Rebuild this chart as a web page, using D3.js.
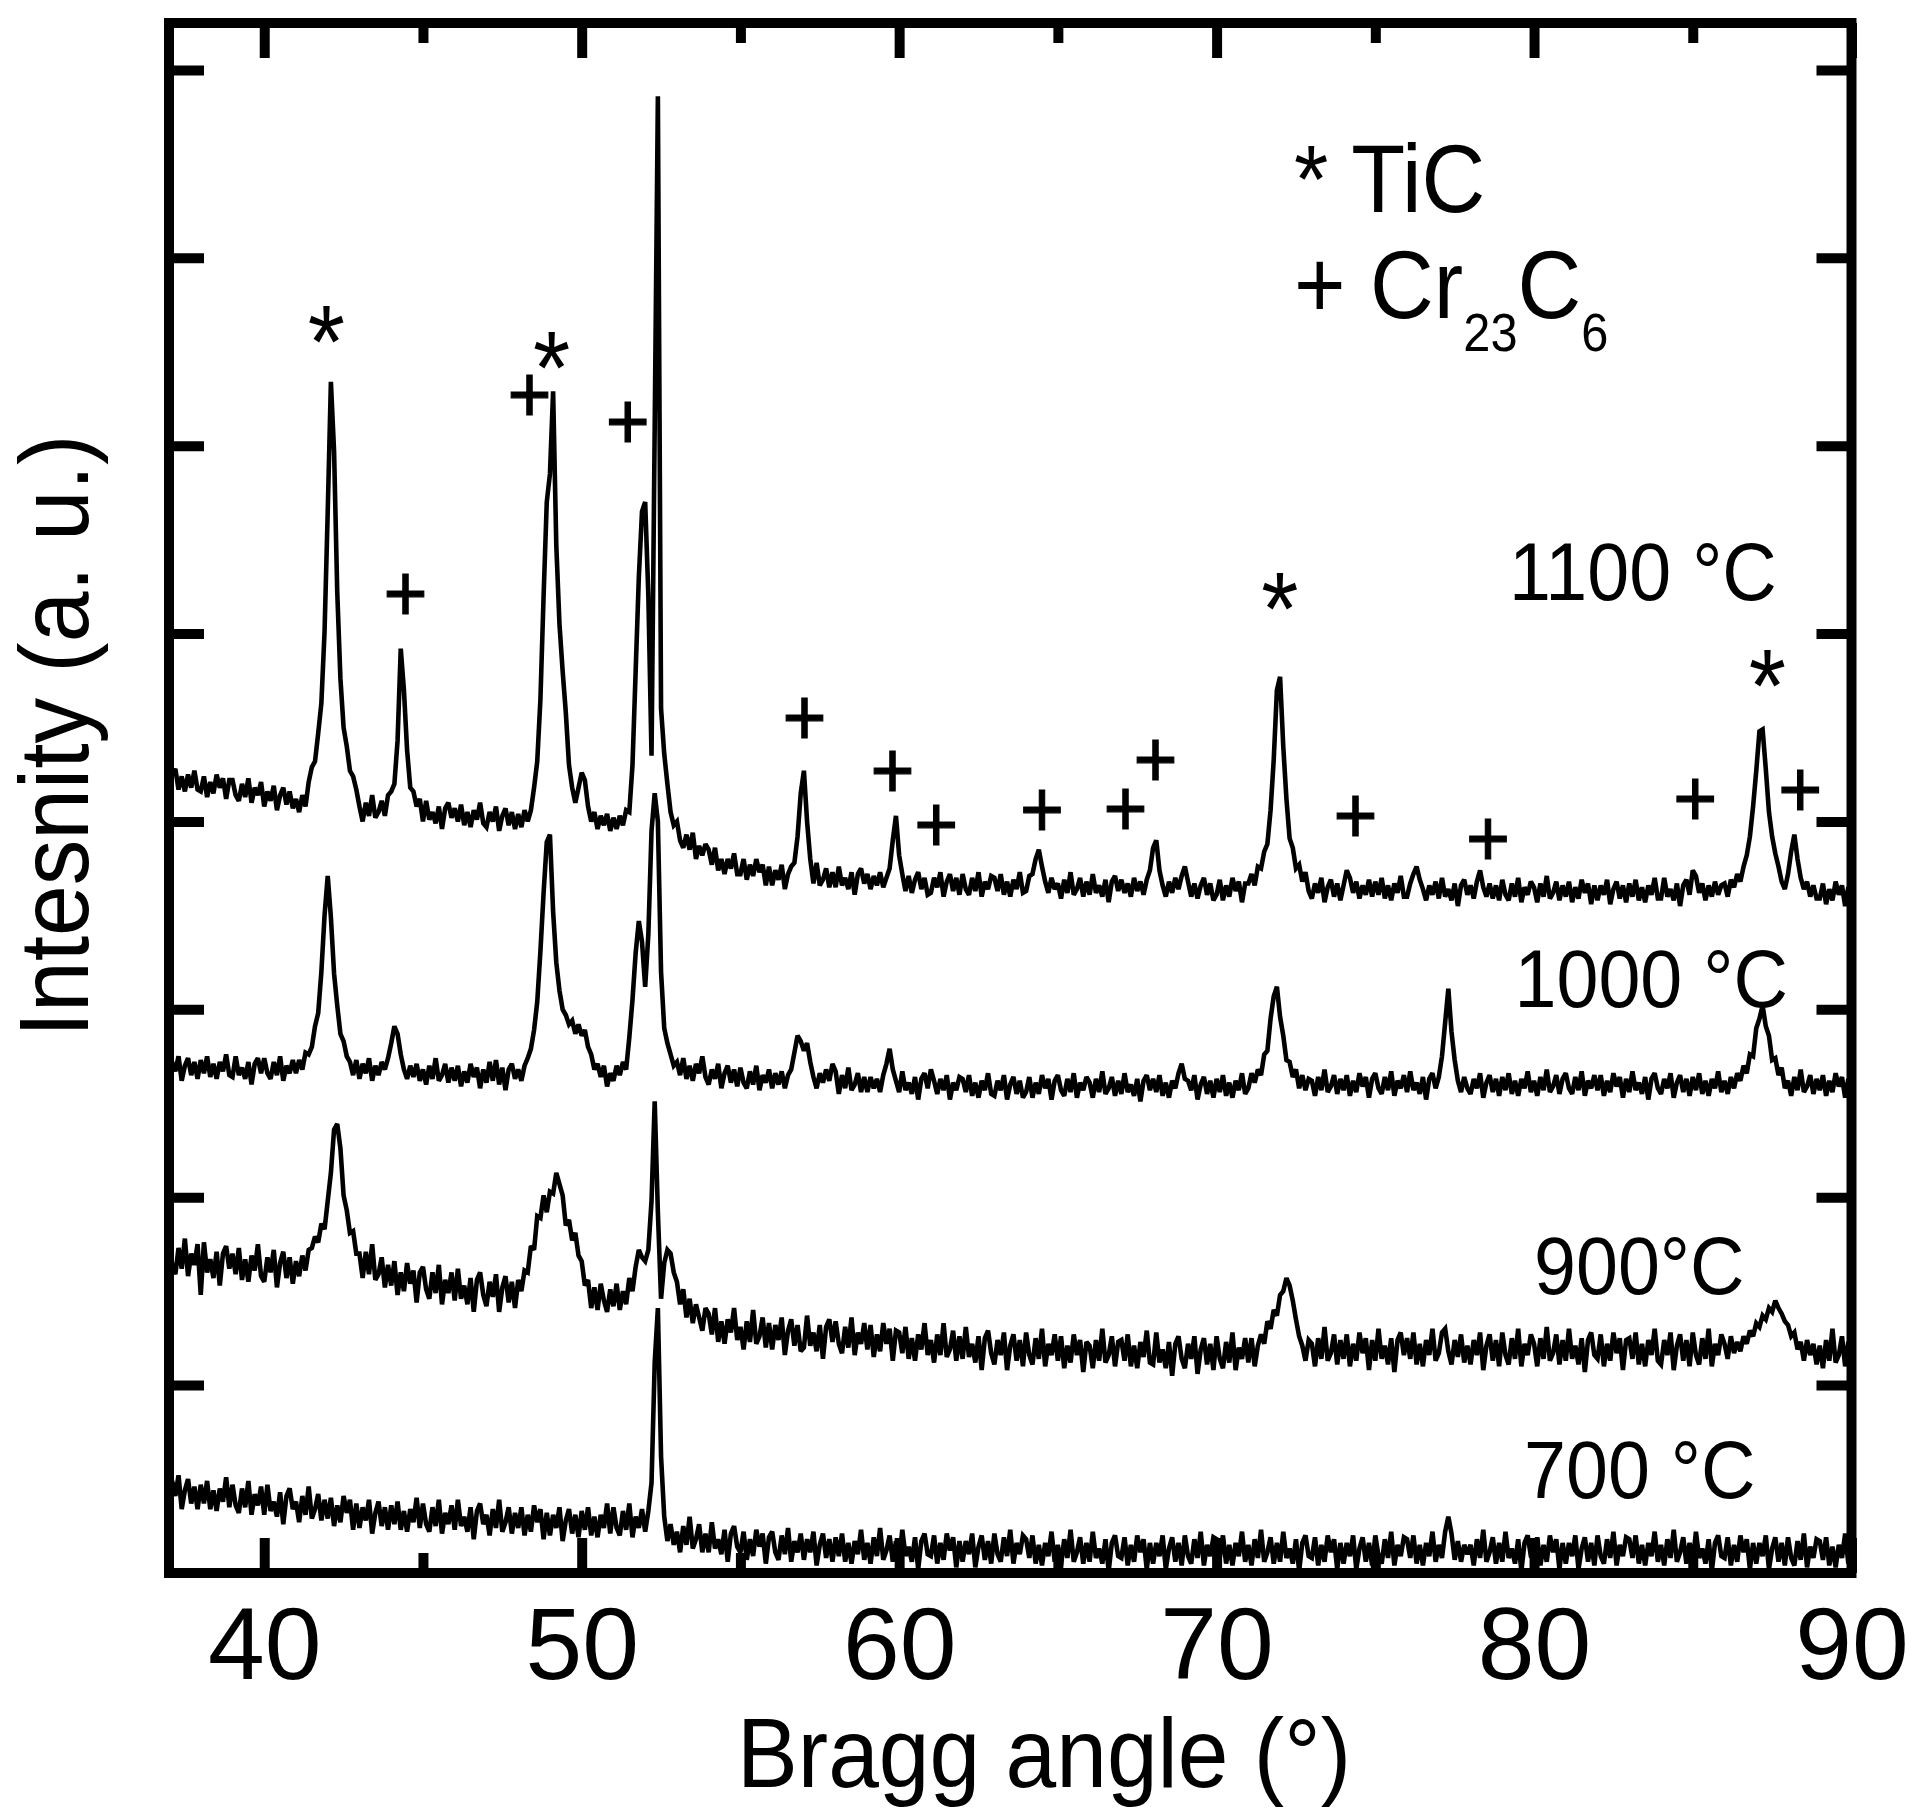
<!DOCTYPE html>
<html><head><meta charset="utf-8">
<script src="https://cdn.jsdelivr.net/npm/d3@7"></script>
<style>
body{margin:0;background:#fff}
text{font-family:"Liberation Sans",Arial,Helvetica,sans-serif;fill:#000}
</style>
</head><body>
<svg id="chart" width="1914" height="1817"></svg>
<script>
// ---- data ----
const angleStart = 37, angleStep = 0.1;   // Bragg angle sampling (degrees)
const xTicks = [40, 50, 60, 70, 80, 90];
const xMinorTicks = [45, 55, 65, 75, 85];
const yTicks = [100, 200, 300, 400, 500, 600, 700, 800];

const s1100 = [
440,425,428,417,424,416,425,418,427,417,
416,424,413,421,415,425,418,423,412,422,
422,414,411,420,413,423,410,418,414,421,
408,416,411,419,406,414,418,409,416,407,
412,405,414,408,421,429,432,447,463,501,
565,634,597,522,476,450,440,427,424,417,
408,400,410,403,414,402,405,411,403,414,
416,420,443,492,470,438,418,416,408,412,
400,411,401,405,399,408,396,407,410,402,
407,400,409,398,405,397,406,401,410,399,
397,405,400,408,395,403,407,398,405,396,
404,397,406,400,406,418,432,465,520,570,
585,629,547,505,480,458,430,418,410,418,
426,422,408,400,405,396,403,398,404,395,
402,396,403,398,406,405,430,480,530,565,
570,520,435,610,786,460,436,420,405,398,
400,390,386,393,385,394,380,387,382,388,
385,377,386,374,380,372,380,375,383,372,
372,380,369,377,371,380,373,377,366,376,
366,374,369,377,364,372,376,378,392,415,
427,400,380,367,378,366,369,375,365,373,
365,376,366,370,364,373,361,372,375,367,
372,364,371,366,373,365,370,375,390,403,
382,372,363,371,362,369,373,364,370,361,
362,370,365,373,360,368,372,363,370,361,
372,364,361,370,363,373,360,368,364,371,
370,363,372,361,368,360,369,364,373,362,
363,371,372,380,385,376,368,362,370,364,
367,359,369,362,373,361,364,370,360,368,
361,372,362,366,360,369,357,368,371,363,
369,362,367,360,370,363,368,361,369,374,
386,390,374,366,360,368,362,370,364,371,
376,368,360,367,359,366,370,361,367,358,
361,369,358,366,360,370,363,368,357,367,
367,372,366,376,375,384,388,406,433,470,
477,440,412,391,386,375,377,368,373,363,
359,367,362,370,357,365,369,360,367,358,
366,374,370,362,368,359,366,361,369,360,
368,361,370,359,366,358,367,362,371,360,
360,367,372,376,369,364,358,366,361,368,
359,370,360,364,358,367,355,366,369,361,
366,359,368,374,365,360,367,359,366,358,
369,361,358,367,360,370,357,365,361,368,
365,357,367,360,371,359,362,368,358,366,
360,368,357,365,359,369,362,367,356,366,
358,366,361,369,356,364,368,359,366,357,
367,360,369,358,365,357,366,361,370,359,
359,370,360,364,358,367,355,366,369,361,
374,371,362,367,358,366,360,368,361,366,
367,360,369,365,372,368,376,382,392,408,
427,448,449,428,405,392,383,376,368,364,
372,384,393,380,370,364,368,360,366,359,
359,367,356,364,358,368,361,366,355,365,
362];

const s1000 = [
264,272,267,275,262,270,274,265,272,263,
273,266,275,264,271,263,272,267,276,265,
264,275,265,269,263,272,260,271,274,266,
274,266,263,272,265,275,262,270,266,273,
266,273,268,277,276,280,291,298,320,350,
371,349,319,302,287,283,275,272,265,273,
263,271,266,274,262,270,265,272,268,274,
282,291,287,276,268,263,270,264,271,262,
268,260,270,263,274,262,265,271,261,269,
262,270,259,267,261,271,264,269,258,268,
261,272,262,273,260,269,257,268,271,263,
268,262,270,274,279,289,304,331,362,389,
393,352,325,310,300,297,292,294,287,292,
286,289,280,276,268,271,264,270,259,266,
262,270,265,272,268,285,305,330,347,336,
312,340,395,415,400,320,290,282,276,270,
272,265,274,263,270,262,271,266,275,264,
260,268,263,271,258,266,270,261,268,259,
269,261,258,267,260,270,257,265,261,268,
258,266,260,267,258,265,268,277,286,283,
278,282,272,264,258,266,261,268,262,271,
267,255,265,258,269,257,260,266,256,264,
256,264,258,263,256,265,271,279,268,262,
256,267,257,261,255,264,252,263,266,258,
268,262,255,263,257,265,252,261,257,264,
263,256,265,254,261,253,262,257,266,255,
254,262,257,265,252,260,264,255,262,253,
256,264,253,261,255,265,258,263,252,262,
265,257,254,263,256,266,253,261,257,264,
261,253,263,256,267,255,258,264,254,262,
255,266,256,260,254,263,251,262,265,257,
263,256,265,254,261,253,262,258,266,271,
263,262,257,265,252,260,264,255,262,253,
263,256,265,254,261,253,262,257,266,255,
258,266,261,268,265,276,278,295,307,312,
296,286,273,272,264,268,258,265,257,263,
262,254,264,257,268,256,259,265,255,263,
257,265,254,262,256,266,259,264,253,263,
266,258,255,264,257,267,254,262,258,265,
256,267,257,261,255,264,252,263,266,258,
264,275,293,311,288,273,262,256,264,258,
255,263,258,266,253,261,265,256,263,254,
264,257,266,255,262,254,263,258,267,256,
262,254,264,257,268,256,259,265,255,263,
266,258,255,264,257,267,254,262,258,265,
257,265,254,262,256,266,259,264,253,263,
256,267,257,261,255,264,252,263,266,258,
255,263,258,266,253,261,265,256,263,254,
264,257,266,255,262,254,263,258,267,256,
262,255,264,258,266,262,270,266,276,275,
290,295,302,291,286,273,274,265,269,258,
262,254,264,257,268,256,259,265,255,263,
257,265,254,262,256,266,259,264,253,263,
259];

const s900 = [
176,164,159,173,162,178,158,170,164,175,
148,176,160,167,157,171,153,170,174,162,
170,159,173,156,167,155,169,161,175,158,
155,168,160,172,152,165,171,157,168,154,
166,158,169,161,172,173,179,176,186,183,
198,213,236,239,226,201,193,181,182,170,
170,157,171,159,175,156,159,168,152,164,
153,166,148,160,150,165,154,161,144,160,
163,151,146,160,149,164,143,156,149,160,
145,162,146,153,143,157,139,156,160,148,
142,155,147,159,139,152,158,144,155,141,
156,150,161,160,174,172,190,189,201,192,
203,202,213,207,201,185,188,177,181,169,
166,153,156,141,152,140,154,145,139,151,
142,154,140,150,143,157,150,163,172,168,
166,172,198,251,192,146,165,172,170,160,
155,143,151,136,146,133,143,136,129,141,
138,127,141,123,134,122,135,128,141,124,
131,119,134,123,140,122,126,136,120,133,
119,132,124,136,116,129,135,121,132,118,
120,137,121,128,118,132,114,131,135,123,
134,122,117,131,120,136,116,128,122,133,
119,132,115,127,118,133,122,130,113,129,
128,117,131,114,125,113,127,119,133,116,
124,112,127,116,133,115,119,129,113,126,
114,131,115,122,112,126,108,125,129,117,
111,124,116,128,108,121,127,113,124,110,
128,116,111,125,114,130,110,122,116,127,
113,126,109,121,112,127,116,124,107,123,
121,109,124,113,130,112,116,126,110,123,
124,113,127,110,121,109,123,115,129,112,
111,128,112,119,109,123,105,122,126,114,
109,122,114,126,106,119,125,111,122,108,
126,114,109,123,112,128,108,120,114,125,
112,125,110,121,127,122,134,130,140,137,
148,150,157,153,145,135,126,121,113,124,
122,110,125,114,131,113,117,127,111,124,
114,127,110,122,113,128,117,125,108,124,
113,130,114,121,111,125,107,124,128,116,
125,114,128,111,122,110,124,116,130,113,
117,128,130,118,111,124,115,127,112,121,
111,124,116,128,108,121,127,113,124,110,
128,116,111,125,114,130,110,122,116,127,
122,110,125,114,131,113,117,127,111,124,
113,130,114,121,111,125,107,124,128,116,
114,127,110,122,113,128,117,125,108,124,
125,114,128,111,122,110,124,116,130,113,
111,124,116,128,108,121,127,113,124,110,
128,116,111,125,114,130,110,122,116,127,
122,114,126,117,123,118,126,122,129,126,
133,131,137,135,141,139,145,141,138,134,
132,126,128,119,123,113,124,116,122,111,
121,109,124,113,130,112,116,126,110,123,
117];

const s700 = [
38,49,41,52,34,44,50,37,46,34,
47,37,49,34,44,33,45,38,51,35,
47,36,32,45,35,49,31,42,36,46,
31,47,33,38,30,43,26,41,45,34,
38,27,41,31,46,29,34,42,28,39,
29,40,25,36,27,41,32,39,23,37,
24,35,28,39,21,32,38,25,35,23,
36,26,38,23,33,22,34,27,40,24,
37,26,22,35,25,39,21,32,26,36,
23,39,25,30,22,35,18,33,37,26,
31,20,34,24,39,22,27,35,21,32,
24,35,20,31,22,36,27,34,18,32,
20,31,24,35,17,28,34,21,31,19,
33,23,35,20,30,19,31,24,37,21,
35,24,20,33,23,37,19,30,24,34,
22,33,48,112,141,62,30,17,26,15,
22,11,25,15,30,13,18,26,11,21,
11,27,13,18,10,23,6,21,25,14,
11,22,7,18,9,23,14,21,5,19,
22,11,7,20,10,24,6,17,11,21,
7,18,11,22,4,15,21,8,18,6,
19,9,21,6,16,5,17,10,23,7,
16,5,19,9,24,7,12,20,6,17,
7,23,9,14,6,19,2,17,21,10,
9,20,5,16,7,21,12,19,3,17,
6,17,10,21,3,14,20,7,17,5,
21,10,6,19,9,23,5,16,10,20,
18,8,20,5,15,4,16,9,22,6,
15,4,18,8,23,6,11,19,5,16,
6,22,8,13,5,18,1,16,20,9,
8,19,4,15,6,20,11,18,2,16,
5,16,9,20,2,13,19,6,16,4,
20,9,5,18,8,22,4,15,9,19,
18,8,20,5,15,4,16,9,22,6,
15,4,18,8,23,6,11,19,5,16,
6,22,8,13,5,18,1,16,20,9,
8,19,4,15,6,20,11,18,2,16,
5,16,9,20,2,13,19,6,16,4,
20,9,5,18,8,22,4,15,9,19,
18,8,20,5,15,4,16,9,22,6,
15,8,22,30,21,7,17,6,15,10,
15,4,18,8,23,6,11,19,5,16,
6,22,8,13,5,18,1,16,20,9,
8,19,4,15,6,20,11,18,2,16,
5,16,9,20,2,13,19,6,16,4,
20,9,5,18,8,22,4,15,9,19,
18,8,20,5,15,4,16,9,22,6,
15,4,18,8,23,6,11,19,5,16,
6,22,8,13,5,18,1,16,20,9,
8,19,4,15,6,20,11,18,2,16,
5,16,9,20,2,13,19,6,16,4,
19,8,4,17,7,21,3,14,8,18,
17,7,19,4,14,3,15,8,21,5,
11];

const seriesNames = ["1100 °C", "1000 °C", "900°C", "700 °C"];

// phase markers on peaks: angle, level, symbol
const markerAngles  = [41.96, 44.45, 48.36, 49.05, 51.45, 57.02, 59.79, 61.17, 64.50, 67.13, 68.08, 71.99, 74.38, 78.55, 85.08, 87.35, 88.39];
const markerLevels  = [668, 522, 628, 654, 614, 456, 428, 399, 407, 408, 434, 526, 404, 392, 413, 485, 418];
const markerSymbols = ["*","+","+","*","+","+","+","+","+","+","+","*","+","+","+","*","+"];

// ---- drawing ----
const svg = d3.select("#chart");
const L = 169, R = 1851.5, T = 23, B = 1573;
const x = d3.scaleLinear().domain([37, 90]).range([L, R]);
const y = d3.scaleLinear().domain([0, 825]).range([B, T]);

const line = d3.line()
  .x((d, i) => x(angleStart + i * angleStep))
  .y(d => y(d));

const allSeries = [s1100, s1000, s900, s700];
svg.append("g").selectAll("path").data(allSeries).join("path")
  .attr("d", line)
  .attr("fill", "none")
  .attr("stroke", "#000")
  .attr("stroke-width", 4.6)
  .attr("stroke-linejoin", "miter")
  .attr("stroke-miterlimit", 2.5);

// frame
svg.append("rect").attr("x", L).attr("y", T).attr("width", R - L).attr("height", B - T)
  .attr("fill", "none").attr("stroke", "#000").attr("stroke-width", 10);

function styleAxis(g) {
  g.select(".domain").remove();
  g.selectAll(".tick line").attr("stroke", "#000").attr("stroke-width", 10);
}
// bottom major with labels
svg.append("g").attr("transform", `translate(0,${B})`)
  .call(d3.axisBottom(x).tickValues(xTicks).tickSize(-35).tickPadding(34).tickFormat(d3.format("d")))
  .call(styleAxis)
  .call(g => g.selectAll("text").attr("font-size", 102).attr("font-family", '"Liberation Sans",Arial,sans-serif').attr("fill", "#000"));
svg.append("g").attr("transform", `translate(0,${B})`)
  .call(d3.axisBottom(x).tickValues(xMinorTicks).tickSize(-20).tickFormat(""))
  .call(styleAxis);
// top
svg.append("g").attr("transform", `translate(0,${T})`)
  .call(d3.axisTop(x).tickValues(xTicks).tickSize(-35).tickFormat(""))
  .call(styleAxis);
svg.append("g").attr("transform", `translate(0,${T})`)
  .call(d3.axisTop(x).tickValues(xMinorTicks).tickSize(-20).tickFormat(""))
  .call(styleAxis);
// left / right
svg.append("g").attr("transform", `translate(${L},0)`)
  .call(d3.axisLeft(y).tickValues(yTicks).tickSize(-35).tickFormat(""))
  .call(styleAxis);
svg.append("g").attr("transform", `translate(${R},0)`)
  .call(d3.axisRight(y).tickValues(yTicks).tickSize(-35).tickFormat(""))
  .call(styleAxis);

// peak markers
const mk = svg.append("g");
markerSymbols.forEach((s, i) => {
  const fs = s === "*" ? 104 : 82;
  const off = s === "*" ? 0.575 * fs : 0.355 * fs;
  mk.append("g")
    .attr("transform", `translate(${x(markerAngles[i])},${y(markerLevels[i])}) scale(0.92,1)`)
    .append("text")
    .attr("y", off)
    .attr("text-anchor", "middle")
    .attr("font-size", fs)
    .attr("stroke", s === "+" ? "#000" : "none")
    .attr("stroke-width", s === "+" ? 1.2 : 0)
    .text(s);
});

// series labels
const labelPos = [[1509, 600], [1514.5, 1006.5], [1534, 1294], [1524, 1497.6]];
seriesNames.forEach((n, i) => {
  svg.append("g").attr("transform", `translate(${labelPos[i][0]},${labelPos[i][1]}) scale(0.92,1)`)
    .append("text").attr("font-size", 82).text(n);
});

// legend
svg.append("g").attr("transform", "translate(1294,212) scale(0.92,1)")
  .append("text").attr("font-size", 96).text("* TiC");
const lg2 = svg.append("g").attr("transform", "translate(1294,318) scale(0.92,1)")
  .append("text").attr("font-size", 96);
lg2.append("tspan").text("+ Cr");
lg2.append("tspan").attr("dy", 33).attr("font-size", 53).text("23");
lg2.append("tspan").attr("dy", -33).text("C");
lg2.append("tspan").attr("dy", 33).attr("font-size", 53).text("6");

// axis titles
svg.append("g").attr("transform", "translate(1044,1787) scale(0.93,1)")
  .append("text").attr("text-anchor", "middle").attr("font-size", 98).text("Bragg angle (°)");
svg.append("g").attr("transform", "translate(88,736) rotate(-90) scale(0.93,1)")
  .append("text").attr("text-anchor", "middle").attr("font-size", 98).text("Intesnity (a. u.)");
</script>
</body></html>
